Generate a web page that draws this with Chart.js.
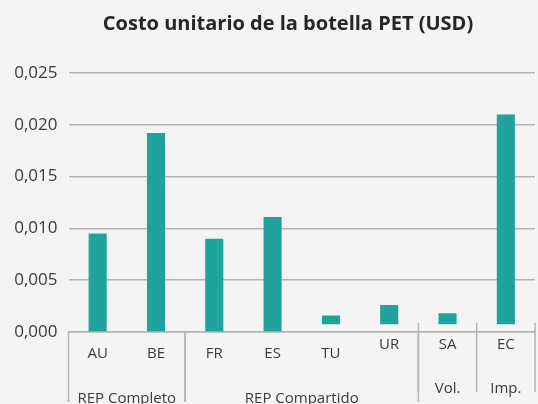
<!DOCTYPE html>
<html lang="es">
<head>
<meta charset="utf-8">
<title>Costo unitario de la botella PET (USD)</title>
<script src="https://cdn.jsdelivr.net/npm/chart.js@4.4.1/dist/chart.umd.min.js"></script>
<style>
  html, body { margin: 0; padding: 0; background: #f4f4f4; overflow: hidden; }
  #wrap { width: 538px; height: 404px; position: relative; }
</style>
</head>
<body>
<div id="wrap"><canvas id="costChart"></canvas></div>
<script>
// valores
var titulo = 'Costo unitario de la botella PET (USD)';
var paises = ['AU', 'BE', 'FR', 'ES', 'TU', 'UR', 'SA', 'EC'];
var costoUnitario = [0.0095, 0.0192, 0.0090, 0.0111, 0.0016, 0.0026, 0.0018, 0.0210];
// las barras de la derecha arrancan un poco por encima del cero en la imagen
var baseBarra = [0, 0, 0, 0, 0.00075, 0.00075, 0.00075, 0.00075];
var grupos = ['REP Completo', 'REP Compartido', 'Vol.', 'Imp.'];
var paisesPorGrupo = [2, 4, 1, 1];
var ticksY = [0, 0.005, 0.010, 0.015, 0.020, 0.025];

// en la imagen original la parte derecha esta un poco mas arriba
var etiquetasAltas = ['UR', 'SA', 'EC'];
var gruposAltos = ['Vol.', 'Imp.'];

var FUENTE = '"Open Sans", "Noto Sans", sans-serif';
var GRIS_TEXTO = '#3b3b3b';
var GRIS_LINEA = '#b1b4b4';

Chart.defaults.font.family = FUENTE;
Chart.defaults.color = GRIS_TEXTO;

// titulo, etiquetas de categoria y eje agrupado (dos niveles)
var ejeAgrupado = {
    id: 'ejeAgrupado',
    afterDraw: function(chart) {
        var ctx = chart.ctx;
        var x = chart.scales.x;
        var area = chart.chartArea;
        var slot = (area.right - area.left) / paises.length;
        var ejeY = area.bottom;

        ctx.save();
        ctx.textAlign = 'center';
        ctx.textBaseline = 'middle';

        ctx.fillStyle = '#262626';
        ctx.font = 'bold 20px ' + FUENTE;
        ctx.fillText(titulo, 288, 24);

        ctx.fillStyle = GRIS_TEXTO;
        ctx.font = '15px ' + FUENTE;
        paises.forEach(function(p, i) {
            var alta = etiquetasAltas.indexOf(p) >= 0;
            ctx.fillText(p, x.getPixelForValue(i), ejeY + (alta ? 13 : 22));
        });

        ctx.strokeStyle = GRIS_LINEA;
        ctx.lineWidth = 1.5;
        var inicio = 0;
        grupos.forEach(function(g, k) {
            var fin = inicio + paisesPorGrupo[k];
            var x0 = area.left + inicio * slot;
            var x1 = area.left + fin * slot;
            var alto = gruposAltos.indexOf(g) >= 0;
            var y0 = alto ? ejeY - 9 : ejeY;
            var y1 = alto ? ejeY + 60 : ejeY + 70;

            ctx.beginPath();
            if (k === 0 || !alto || gruposAltos.indexOf(grupos[k - 1]) < 0) {
                ctx.moveTo(x0, y0); ctx.lineTo(x0, y1);
            }
            ctx.moveTo(x1, y0); ctx.lineTo(x1, y1);
            ctx.stroke();

            ctx.font = '15px ' + FUENTE;
            ctx.fillText(g, (x0 + x1) / 2, alto ? ejeY + 57 : ejeY + 67);
            inicio = fin;
        });
        ctx.restore();
    }
};

document.addEventListener('DOMContentLoaded', function() {
    var ctx = document.getElementById('costChart').getContext('2d');
    var costChart = new Chart(ctx, {
        type: 'bar',
        data: {
            labels: paises,
            datasets: [{
                label: 'Costo unitario',
                data: paises.map(function(p, i) { return [baseBarra[i], costoUnitario[i]]; }),
                backgroundColor: '#1fa39c',
                borderWidth: 0,
                barPercentage: 0.31,
                categoryPercentage: 1
            }]
        },
        options: {
            responsive: true,
            maintainAspectRatio: false,
            animation: false,
            layout: { padding: { top: 73, right: 3, left: 0, bottom: 0 } },
            plugins: {
                legend: { display: false },
                title: { display: false },
                tooltip: { enabled: false }
            },
            scales: {
                x: {
                    ticks: { display: false },
                    grid: { display: false },
                    border: { display: true, color: GRIS_LINEA, width: 1.5 },
                    afterFit: function(scale) { scale.height = 72; }
                },
                y: {
                    min: 0,
                    max: 0.025,
                    afterBuildTicks: function(scale) {
                        scale.ticks = ticksY.map(function(v) { return { value: v }; });
                    },
                    ticks: {
                        padding: 11,
                        color: GRIS_TEXTO,
                        font: { size: 17 },
                        callback: function(v) { return v.toFixed(3).replace('.', ','); }
                    },
                    grid: { color: GRIS_LINEA, lineWidth: 1.5, drawTicks: false },
                    border: { display: false },
                    afterFit: function(scale) { scale.width = 68.5; }
                }
            }
        },
        plugins: [ejeAgrupado]
    });
});
</script>
</body>
</html>
